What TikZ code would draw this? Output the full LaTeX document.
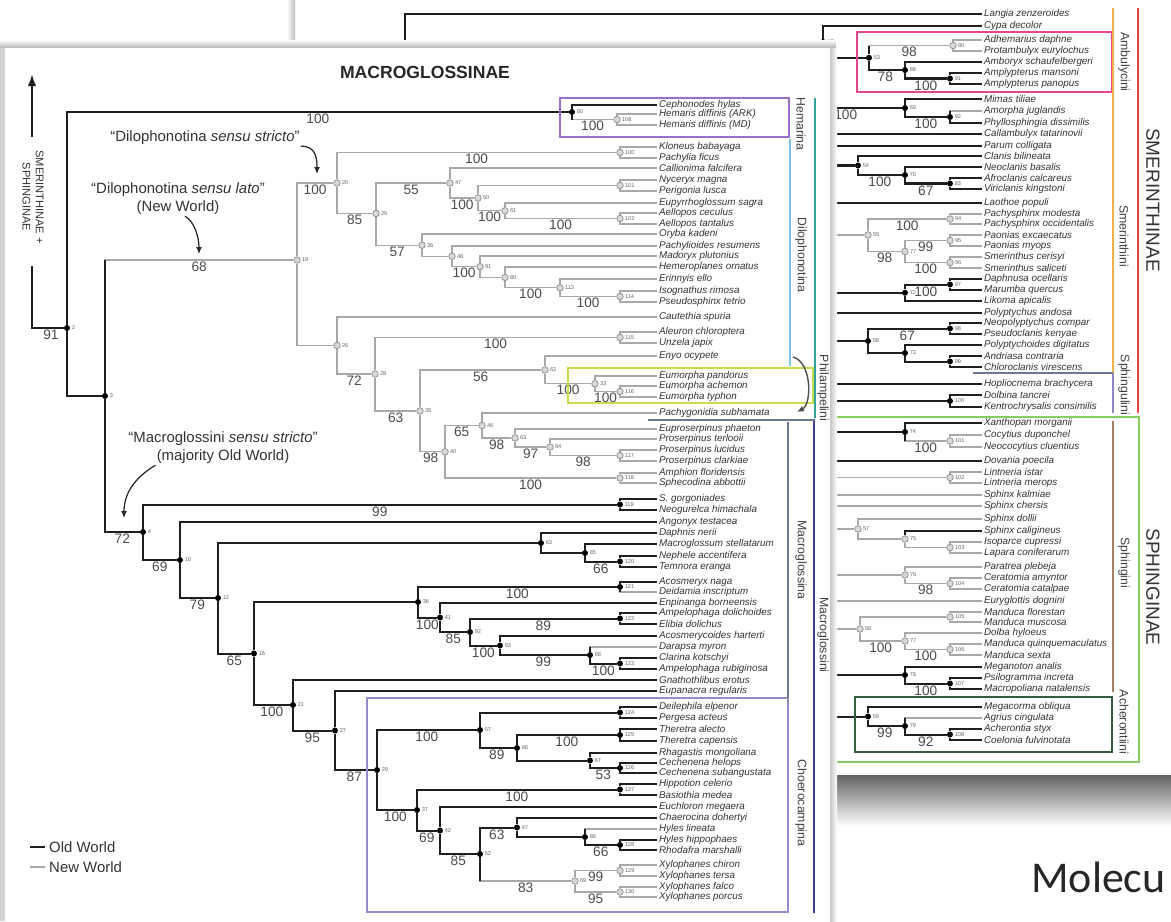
\documentclass[tikz,border=0pt]{standalone}
\usepackage{fontspec}
\setmainfont{Liberation Sans}
\newfontfamily\slidefont{Carlito}
\usetikzlibrary{arrows.meta,calc}

\definecolor{nwgray}{HTML}{A8A8A8}
\definecolor{hemc}{HTML}{9B6FC9}
\definecolor{dilc}{HTML}{7CC3E6}
\definecolor{tealc}{HTML}{2FA39B}
\definecolor{eumc}{HTML}{CFD94F}
\definecolor{sepc}{HTML}{6C7896}
\definecolor{navyc}{HTML}{3B3F98}
\definecolor{choc}{HTML}{968CCB}
\definecolor{ambc}{HTML}{E2478C}
\definecolor{orc}{HTML}{F3B34A}
\definecolor{redc}{HTML}{E5463D}
\definecolor{sphgc}{HTML}{8E86C4}
\definecolor{brc}{HTML}{A67F62}
\definecolor{grc}{HTML}{86CD63}
\definecolor{dgc}{HTML}{2F5D3E}

\begin{document}
\begin{tikzpicture}[x=0.02cm,y=-0.02cm]
	\tikzstyle{owline}=[line width=1.15pt, black!88]
	\tikzstyle{nwline}=[line width=0.65pt, nwgray]
	\tikzstyle{ow}=[circle, fill=black, inner sep=0pt, minimum size=0.12cm]
	\tikzstyle{nw}=[circle, draw=gray!85, fill=gray!30, line width=0.45pt,
                  inner sep=0pt, minimum size=0.13cm]
	\tikzstyle{taxon}=[anchor=west, inner sep=1pt, text=black!80,
                  font=\fontsize{5.6}{6}\selectfont\itshape]
	\tikzstyle{sup}=[pos=0.75, below, inner sep=0.6pt, text=black!70,
                  font=\fontsize{7.8}{8}\selectfont]
	\tikzstyle{idx}=[inner sep=0.6pt, text=black!60, font=\fontsize{3.2}{3.2}\selectfont]
	\tikzstyle{tribe}=[rotate=-90, inner sep=0pt, text=black!75, font=\fontsize{7}{7}\selectfont]
	\tikzstyle{subfam}=[rotate=-90, inner sep=0pt, text=black!80, font=\fontsize{10.8}{11}\selectfont]
	\tikzstyle{note}=[inner sep=0.5pt, text=black!80, font=\fontsize{8.5}{9}\selectfont]
	\tikzstyle{annarrow}=[line width=0.7pt, black!85, -{Latex[length=1.4mm,width=1.2mm]}]

	\useasboundingbox (0,0) rectangle (1171,921);
	\fill[white] (0,0) rectangle (1171,921);

	% back page (Smerinthinae + Sphinginae)
	\fill[white] (295,0) rectangle (1171,775);
	\shade[left color=white, right color=gray!55] (287,0) rectangle (295,48);
	\shade[top color=black!62, bottom color=white] (830,775) rectangle (1171,826);

	\foreach \id/\name/\y in {lan/Langia zenzeroides/14, cyp/Cypa decolor/26,
	    adh/Adhemarius daphne/40, pro/Protambulyx eurylochus/51, amb/Amboryx schaufelbergeri/62,
	    amm/Amplypterus mansoni/73, amp/Amplypterus panopus/84, mim/Mimas tiliae/99,
	    amo/Amorpha juglandis/111, phy/Phyllosphingia dissimilis/123, cal/Callambulyx tatarinovii/134,
	    par/Parum colligata/146, cla/Clanis bilineata/156, neo/Neoclanis basalis/167,
	    afr/Afroclanis calcareus/178, vir/Viriclanis kingstoni/189, lao/Laothoe populi/203,
	    pam/Pachysphinx modesta/214, pao/Pachysphinx occidentalis/224, pae/Paonias excaecatus/235,
	    pay/Paonias myops/246, smc/Smerinthus cerisyi/257, sms/Smerinthus saliceti/268,
	    dap/Daphnusa ocellaris/279, mar/Marumba quercus/290, lik/Likoma apicalis/301,
	    pol/Polyptychus andosa/313, neop/Neopolyptychus compar/323, pse/Pseudoclanis kenyae/334,
	    pdi/Polyptychoides digitatus/345, and/Andriasa contraria/356, chl/Chloroclanis virescens/367,
	    hop/Hopliocnema brachycera/384, dol/Dolbina tancrei/395, ken/Kentrochrysalis consimilis/407,
	    xan/Xanthopan morganii/423, coc/Cocytius duponchel/435, nco/Neococytius cluentius/447,
	    dov/Dovania poecila/461, lii/Lintneria istar/472, lim/Lintneria merops/483,
	    spk/Sphinx kalmiae/495, spc/Sphinx chersis/506, spd/Sphinx dollii/519,
	    spg/Sphinx caligineus/531, iso/Isoparce cupressi/542, lap/Lapara coniferarum/553,
	    ptr/Paratrea plebeja/567, cea/Ceratomia amyntor/578, cec/Ceratomia catalpae/589,
	    eur/Euryglottis dognini/601, maf/Manduca florestan/612, mam/Manduca muscosa/622,
	    dlb/Dolba hyloeus/633, maq/Manduca quinquemaculatus/644, mas/Manduca sexta/655,
	    mea/Meganoton analis/667, psi/Psilogramma increta/678, mac/Macropoliana natalensis/689,
	    meg/Megacorma obliqua/707, agr/Agrius cingulata/718, ach/Acherontia styx/729,
	    coe/Coelonia fulvinotata/740}
		\node[taxon] (\id) at (982,\y) {\name};

	\foreach \id/\x/\y/\lb in {b13/823/42/13, b53/869/57.75/53, b88/905/70/88, b91/950/78.5/91,
	    b69/905/108/69, b92/950/117/92, b54/858/165.5/54, b70/905/175/70, b83/950/183.5/83,
	    b72/905/292.75/72, bDM/950/284.5/97, b58/868/341/58, b98/950/328.5/98, b73/905/353/73,
	    b99/950/361.5/99, bDK/950/401/100, b74/905/432/74, b78/905/675/78, bPs/950/683.5/107,
	    b59/868/716.5/59, b79/905/726/79, bAC/950/734.5/108}
		\node[ow, label={[idx]right:\lb}] (\id) at (\x,\y) {};
	\foreach \id/\x/\y/\lb in {bg1/953/45.5/90, b55/868/235/55, bPach/950/219/94, b77/905/251.5/77,
	    bPao/950/240.5/95, bSme/950/262.5/96, bCoc/950/441/101, bLin/950/477.5/102,
	    b57/858/529/57, b75/905/539/75, bIL/950/547.5/103, b76/905/575/76, bCer/950/583.5/104,
	    bMf/950/617/105, b58b/860/629/58, b77b/905/641/77, bMq/950/649.5/106}
		\node[nw, label={[idx]right:\lb}] (\id) at (\x,\y) {};

	\coordinate (bt1) at (405,60);
	\coordinate (bt2) at (618,60);
	\coordinate (hid) at (800,0);

	% back edges
	\draw[owline] (bt1) |- (lan);
	\draw[owline] (bt2) |- (b13);
	\foreach \pa/\ch/\lb in {b13/cyp/{}, b13/b53/{}, b53/b88/78, b88/amb/{}, b88/b91/100,
	    b91/amm/{}, b91/amp/{}, b69/mim/{}, b69/b92/100, b92/phy/{}, b54/cla/{}, b54/b70/100,
	    b70/neo/{}, b70/b83/67, b83/afr/{}, b83/vir/{}, b72/bDM/100, b72/lik/{}, bDM/dap/{},
	    bDM/mar/{}, b58/b98/67, b58/b73/{}, b98/neop/{}, b98/pse/{}, b73/pdi/{}, b73/b99/{},
	    b99/and/{}, b99/chl/{}, bDK/dol/{}, bDK/ken/{}, b74/xan/{}, b75/spg/{}, b78/mea/{},
	    b78/bPs/100, bPs/psi/{}, bPs/mac/{}, b59/meg/{}, b59/b79/99, b79/bAC/92,
	    bAC/ach/{}, bAC/coe/{}}
		\draw[owline] (\pa) |- (\ch) node[sup]{\lb};
	\foreach \pa/\ch/\lb in {b53/bg1/98, bg1/adh/{}, bg1/pro/{}, b92/amo/{}, b55/bPach/100,
	    b55/b77/98, b77/bPao/99, b77/bSme/100, bPach/pam/{}, bPach/pao/{}, bPao/pae/{},
	    bPao/pay/{}, bSme/smc/{}, bSme/sms/{}, b74/bCoc/100, bCoc/coc/{}, bCoc/nco/{},
	    bLin/lii/{}, bLin/lim/{}, b57/spd/{}, b57/b75/{}, b75/bIL/{}, bIL/iso/{}, bIL/lap/{},
	    b76/ptr/{}, b76/bCer/98, bCer/cea/{}, bCer/cec/{}, b58b/bMf/{}, b58b/b77b/100,
	    bMf/maf/{}, bMf/mam/{}, b77b/dlb/{}, b77b/bMq/100, bMq/maq/{}, bMq/mas/{}, b79/agr/{}}
		\draw[nwline] (\pa) |- (\ch) node[sup]{\lb};
	\foreach \pa/\ch in {b53/bg1, b92/amo, b74/bCoc, b79/agr}
		\draw[owline] (\pa) -- (\pa |- \ch);
	\foreach \ch in {cal, par, lao, pol, hop, dov, b54, b72, b58, bDK, b74, b78, b59}
		\draw[owline] (hid |- \ch) -- (\ch);
	\foreach \ch in {spk, spc, eur, b55, bLin, b57, b76, b58b}
		\draw[nwline] (hid |- \ch) -- (\ch);
	\draw[owline] (hid |- b69) -- (b69) node[sup, pos=0.45]{100};

	% back boxes and bars
	\draw[ambc, line width=1.2pt] (857,32) rectangle (1112,92);
	\draw[orc, line width=1.3pt] (1113,8) -- (1113,373);
	\draw[sphgc, line width=1.3pt] (1113,373) -- (1113,413);
	\draw[sepc, line width=0.6pt] (973,373) -- (1113,373);
	\draw[redc, line width=1.3pt] (1138,8) -- (1138,413);
	\draw[grc, line width=1.3pt] (815,417) rectangle (1139,762);
	\draw[brc, line width=1.3pt] (1113,421) -- (1113,692);
	\draw[dgc, line width=1.2pt] (855,697) rectangle (1112,752);
	\node[tribe] (amblab) at (1124,62) {Ambulycini};
	\node[tribe] (smelab) at (1124,236) {Smerinthini};
	\node[tribe] (sgllab) at (1124,385) {Sphingulini};
	\node[tribe] (sphlab) at (1124,563) {Sphingini};
	\node[tribe] (achlab) at (1124,722) {Acherontiini};
	\node[subfam] (smerlab) at (1153,200) {SMERINTHINAE};
	\node[subfam] (sphilab) at (1153,587) {SPHINGINAE};

	% front page (Macroglossinae)
	\shade[top color=white, bottom color=gray!60] (0,40) rectangle (836,48);
	\shade[left color=gray!45, right color=white] (830,48) rectangle (837,921);
	\fill[white] (0,48) rectangle (830,921);
	\fill[gray!35] (0,48) rectangle (5,921);

	\node[font=\fontsize{10}{10}\selectfont\bfseries, text=black!85] (title) at (425,72) {MACROGLOSSINAE};

	\foreach \name/\y [count=\i] in {Cephonodes hylas/105, Hemaris diffinis (ARK)/114,
	    Hemaris diffinis (MD)/125, Kloneus babayaga/147, Pachylia ficus/158,
	    Callionima falcifera/168, Nyceryx magna/180, Perigonia lusca/191,
	    Eupyrrhoglossum sagra/203, Aellopos ceculus/213, Aellopos tantalus/224,
	    Oryba kadeni/234, Pachylioides resumens/246, Madoryx plutonius/256,
	    Hemeroplanes ornatus/267, Erinnyis ello/279, Isognathus rimosa/291,
	    Pseudosphinx tetrio/302, Cautethia spuria/317, Aleuron chloroptera/332,
	    Unzela japix/343, Enyo ocypete/356, Eumorpha pandorus/376, Eumorpha achemon/386,
	    Eumorpha typhon/397, Pachygonidia subhamata/413, Euproserpinus phaeton/429,
	    Proserpinus terlooii/439, Proserpinus lucidus/450, Proserpinus clarkiae/461,
	    Amphion floridensis/473, Sphecodina abbottii/483, S. gorgoniades/499,
	    Neogurelca himachala/510, Angonyx testacea/522, Daphnis nerii/533,
	    Macroglossum stellatarum/544, Nephele accentifera/556, Temnora eranga/567,
	    Acosmeryx naga/582, Deidamia inscriptum/592, Enpinanga borneensis/603,
	    Ampelophaga dolichoides/613, Elibia dolichus/624, Acosmerycoides harterti/636,
	    Darapsa myron/647, Clarina kotschyi/658, Ampelophaga rubiginosa/669,
	    Gnathothlibus erotus/680, Eupanacra regularis/691, Deilephila elpenor/707,
	    Pergesa acteus/718, Theretra alecto/729, Theretra capensis/741,
	    Rhagastis mongoliana/753, Cechenena helops/763, Cechenena subangustata/773,
	    Hippotion celerio/784, Basiothia medea/795, Euchloron megaera/807,
	    Chaerocina dohertyi/818, Hyles lineata/829, Hyles hippophaes/840,
	    Rhodafra marshalli/850, Xylophanes chiron/865, Xylophanes tersa/876,
	    Xylophanes falco/887, Xylophanes porcus/897}
		\node[taxon] (f\i) at (657,\y) {\name};

	\foreach \id/\x/\y/\lb in {r1/67/328/2, r3/105/396/3, hemr/572/112/80, m4/143/532/4,
	    sg/620/504.5/119, m10/180/560/10, m12/218/598/12, mA/541/543/63, mB/585/553/85,
	    mC/620/561.5/120, m16/254/653.5/16, mD/418/602/36, n121/620/587/121, mE/440/617.5/41,
	    mF/470/632/92, n120/620/618.5/122, mG/500/645.5/93, mH/590/655/98, n122/620/663.5/123,
	    m21/293/705/21, m27/335/730.5/27, m29/377/770/29, cI/480/730/57, n124/620/712.5/124,
	    cK/517/748/88, n125/620/735/125, cL/590/760.5/67, n126/620/768/126, cJ/417/810/37,
	    n127/620/789.5/127, cN/440/830.6/42, cO/480/854/52, cT/517/827.5/47, cU/585/837/86,
	    n128/620/845/128}
		\node[ow, label={[idx]right:\lb}] (\id) at (\x,\y) {};
	\foreach \id/\x/\y/\lb in {hem/617/119.5/108, n19/297/260/19, n20/337/183/20,
	    nKP/620/152.5/100, n29/376/213.5/29, n47/450/183/47, n60/478/198/60, n101/620/185.5/101,
	    n61/505/210.75/61, n102/620/218.5/102, n36/422/245.2/36, n48/452/256.3/48,
	    n91/480/266.7/91, n80/505/277.4/80, n113/560/287.75/113, n114/620/296.5/114,
	    n26/337/345.5/26, n28/375/374/28, n115/620/337.5/115, n38/420/411/38, n62/545/370/62,
	    n33/595/383.75/33, n118/620/391.5/116, n39/445/451.75/40, n46/482/425.5/46,
	    n63/515/438/63, n94/550/447/94, n117/620/455.5/117, n116/620/478/118,
	    cS/575/881/69, n129/620/870.5/129, n130/620/892/130}
		\node[nw, label={[idx]right:\lb}] (\id) at (\x,\y) {};

	% edges
	\foreach \pa/\ch/\lb in {r1/hemr/100, hemr/f1/{}, r1/r3/{}, r3/m4/72, m4/sg/99, sg/f33/{},
	    sg/f34/{}, m4/m10/69, m10/f35/{}, m10/m12/79, m12/mA/{}, mA/f36/{}, mA/mB/{},
	    mB/f37/{}, mB/mC/66, mC/f38/{}, mC/f39/{}, m12/m16/65, m16/mD/{}, mD/n121/100,
	    n121/f40/{}, mD/mE/100, mE/f42/{}, mE/mF/85, mF/n120/89, n120/f43/{}, n120/f44/{},
	    mF/mG/100, mG/f45/{}, mG/mH/99, mH/n122/100, n122/f47/{}, n122/f48/{}, m16/m21/100,
	    m21/f49/{}, m21/m27/95, m27/f50/{}, m27/m29/87, m29/cI/100, cI/n124/{}, n124/f51/{},
	    n124/f52/{}, cI/cK/89, cK/n125/100, n125/f53/{}, n125/f54/{}, cK/cL/{}, cL/f55/{},
	    cL/n126/53, n126/f56/{}, n126/f57/{}, m29/cJ/100, cJ/n127/100, n127/f58/{},
	    n127/f59/{}, cJ/cN/69, cN/f60/{}, cN/cO/85, cO/cT/63, cT/f61/{}, cT/cU/{},
	    cU/n128/66, n128/f63/{}, n128/f64/{}}
		\draw[owline] (\pa) |- (\ch) node[sup]{\lb};
	\foreach \pa/\ch/\lb in {hemr/hem/100, hem/f2/{}, hem/f3/{}, r3/n19/68, n19/n20/100,
	    n20/nKP/100, nKP/f4/{}, nKP/f5/{}, n20/n29/85, n29/n47/55, n47/f6/{}, n47/n60/100,
	    n60/n101/{}, n101/f7/{}, n101/f8/{}, n60/n61/100, n61/f9/{}, n61/n102/100,
	    n102/f10/{}, n102/f11/{}, n29/n36/57, n36/f12/{}, n36/n48/{}, n48/f13/{},
	    n48/n91/100, n91/f14/{}, n91/n80/{}, n80/f15/{}, n80/n113/100, n113/f16/{},
	    n113/n114/100, n114/f17/{}, n114/f18/{}, n19/n26/{}, n26/f19/{}, n26/n28/72,
	    n28/n115/100, n115/f20/{}, n115/f21/{}, n28/n38/63, n38/n62/56, n62/f22/{},
	    n62/n33/100, n33/f23/{}, n33/n118/100, n118/f24/{}, n118/f25/{}, n38/n39/98,
	    n39/n46/65, n46/f26/{}, n46/n63/98, n63/f27/{}, n63/n94/97, n94/f28/{},
	    n94/n117/98, n117/f29/{}, n117/f30/{}, n39/n116/100, n116/f31/{}, n116/f32/{},
	    n121/f41/{}, mH/f46/{}, cU/f62/{}, cO/cS/83, cS/n129/99, cS/n130/95,
	    n129/f65/{}, n129/f66/{}, n130/f67/{}, n130/f68/{}}
		\draw[nwline] (\pa) |- (\ch) node[sup]{\lb};
	\foreach \pa/\ch in {hemr/hem, r3/n19, n121/f41, mH/f46, cU/f62, cO/cS}
		\draw[owline] (\pa) -- (\pa |- \ch);

	% root branch to the other subfamilies
	\coordinate (sgtop) at (32,74);
	\coordinate (sgmid) at (32,137);
	\coordinate (sgbot) at (32,266);
	\draw[owline, -{Latex[length=2.4mm,width=1.7mm]}] (sgmid) -- (sgtop);
	\draw[owline] (sgbot) |- (r1) node[sup, pos=0.8]{91};
	\node[rotate=-90, align=center, inner sep=0pt, text=black!80,
	      font=\fontsize{6.3}{7.6}\selectfont] (sgtext) at (33,197) {SMERINTHINAE +\\SPHINGINAE};

	% clade boxes and bars
	\draw[hemc, line width=0.9pt] (560,98) rectangle (789,137);
	\draw[eumc, line width=1.2pt] (568,368) rectangle (813,403);
	\draw[choc, line width=0.9pt] (367,698) rectangle (788,912);
	\draw[dilc, line width=0.9pt] (790,139) -- (790,366);
	\draw[tealc, line width=1.1pt] (815,98) -- (815,418);
	\draw[sepc, line width=0.8pt] (648,420) -- (815,420);
	\draw[sepc, line width=0.9pt] (788,422) -- (788,698);
	\draw[navyc, line width=1.3pt] (814,421) -- (814,913);
	\coordinate (phs) at (793,357);
	\coordinate (phe) at (797,412);
	\draw[line width=0.8pt, black!70, -{Latex[length=1.4mm,width=1.2mm]}] (phs) .. controls (812,362) and (812,404) .. (phe);
	\node[tribe] (hemlab) at (801,124) {Hemarina};
	\node[tribe] (dillab) at (801,255) {Dilophonotina};
	\node[tribe] (phllab) at (823,388) {Philampelini};
	\node[tribe] (mgalab) at (801,560) {Macroglossina};
	\node[tribe] (cholab) at (801,803) {Choerocampina};
	\node[tribe] (mgilab) at (823,635) {Macroglossini};

	% annotations
	\node[note] (sstxt) at (205,138) {“Dilophonotina \textit{sensu stricto}”};
	\node[note] (sltxt) at (178,190) {“Dilophonotina \textit{sensu lato}”};
	\node[note] (nwtxt) at (178,208) {(New World)};
	\node[note] (mstxt) at (223,439) {“Macroglossini \textit{sensu stricto}”};
	\node[note] (owtxt) at (223,457) {(majority Old World)};
	\coordinate (sstip) at (317,174);
	\coordinate (sltip) at (199,254);
	\coordinate (mstip) at (124,518);
	\draw[annarrow] (sstxt.south east) .. controls (316,146) and (317,158) .. (sstip);
	\draw[annarrow] ([xshift=4pt]nwtxt.south) .. controls (195,222) and (199,238) .. (sltip);
	\draw[annarrow] (owtxt.south west) .. controls (134,478) and (124,494) .. (mstip);

	% legend
	\coordinate (lg1) at (30,847);
	\coordinate (lg2) at (45,847);
	\coordinate (lg3) at (30,867);
	\coordinate (lg4) at (45,867);
	\draw[owline] (lg1) -- (lg2);
	\draw[nwline] (lg3) -- (lg4);
	\node[note, anchor=west] (lgow) at (48,847) {Old World};
	\node[note, anchor=west] (lgnw) at (48,867) {New World};

	\node[anchor=west, inner sep=0pt, text=black!85, font=\slidefont\fontsize{25}{26}\selectfont] (slide) at (1031,877) {Molecu};
\end{tikzpicture}
\end{document}
